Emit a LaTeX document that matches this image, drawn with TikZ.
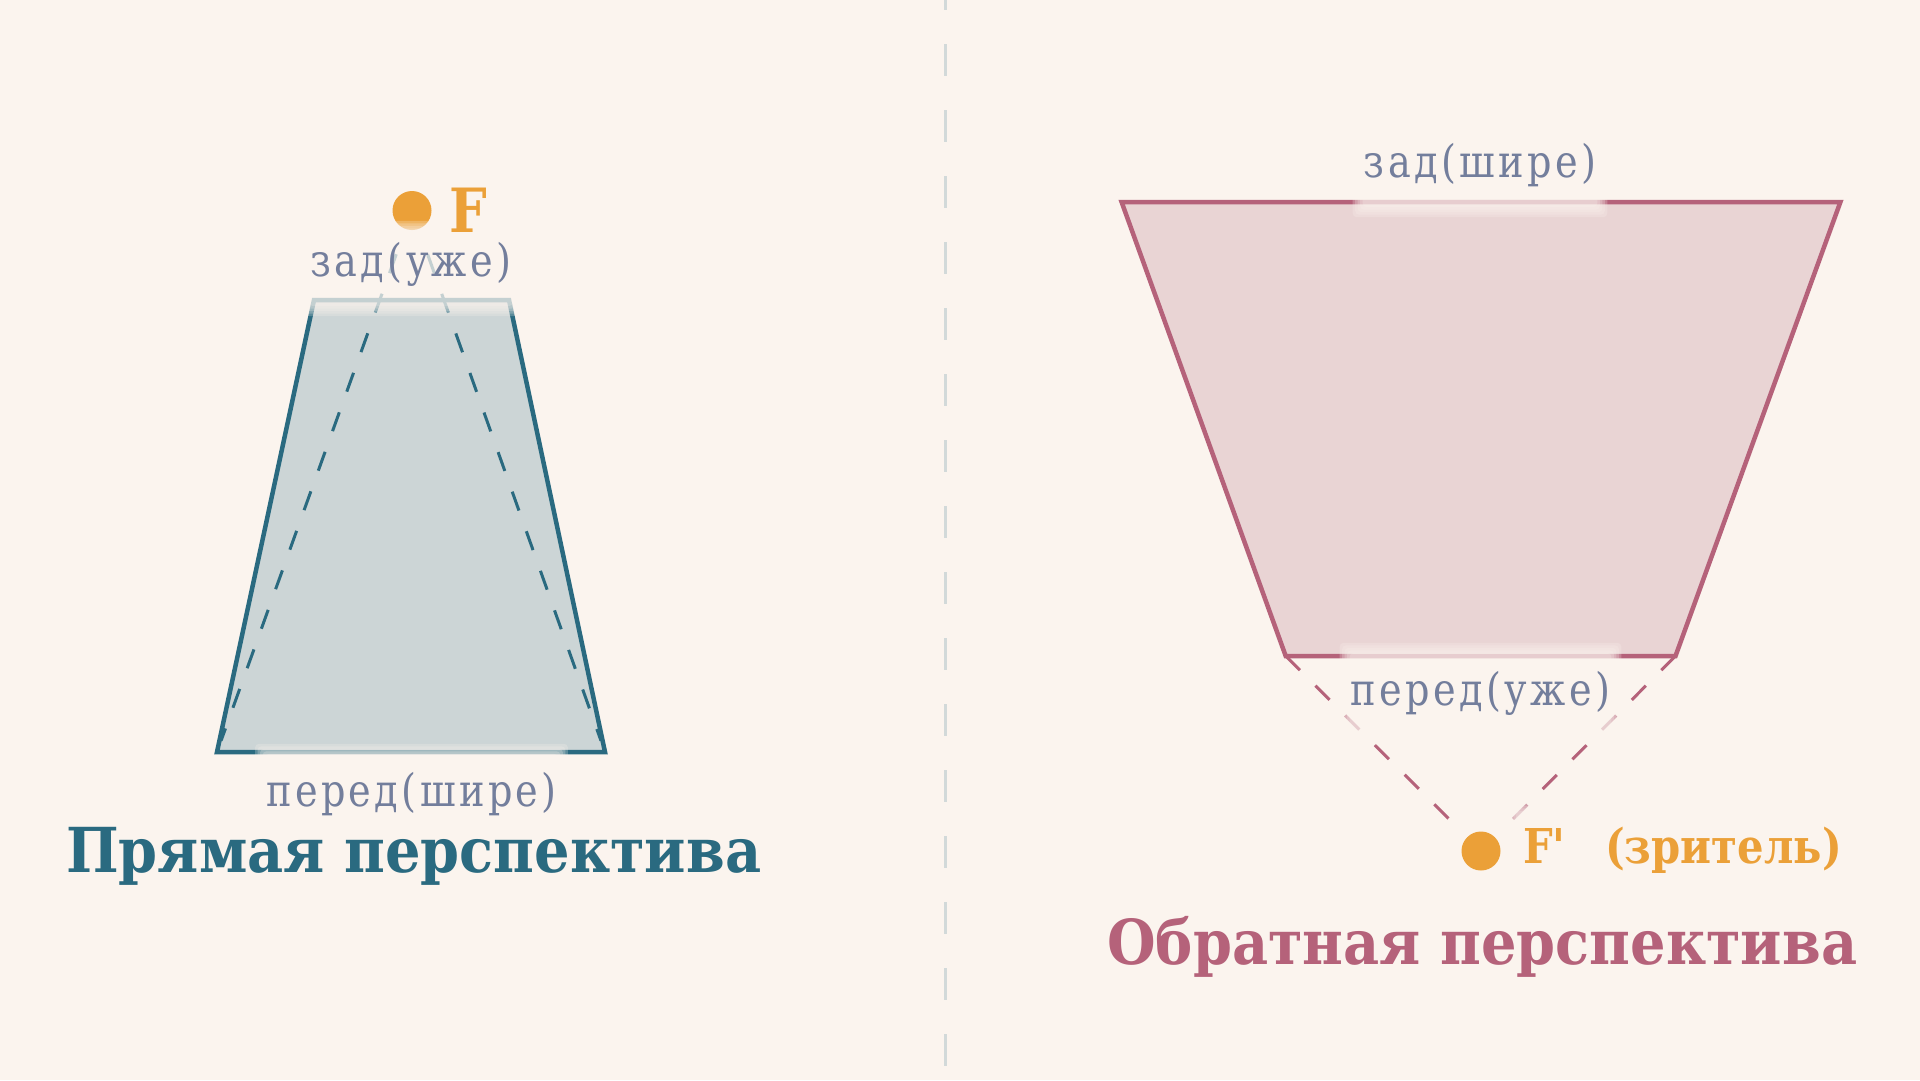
\documentclass[tikz,border=0pt]{standalone}
\usepackage{fontspec}
\setmainfont{DejaVu Serif}
\newfontfamily\lblfont{DejaVu Serif}[FakeStretch=0.85, LetterSpace=7.5]
\newfontfamily\titlefont{DejaVu Serif Bold}[FakeStretch=0.9]
\newfontfamily\viewfont{DejaVu Serif Bold}[FakeStretch=0.87, Ligatures=TeXOff]
\definecolor{bgc}{HTML}{FBF4EE}
\definecolor{bluec}{HTML}{2A6A80}
\definecolor{bluefill}{HTML}{CCD5D6}
\definecolor{rosec}{HTML}{B5627A}
\definecolor{rosefill}{HTML}{E9D4D4}
\definecolor{orangec}{HTML}{EBA038}
\definecolor{lblc}{HTML}{737E9C}
\definecolor{divc}{HTML}{D2D9D9}
\pgfdeclarelayer{front}
\pgfsetlayers{main,front}
\tikzset{
  divider/.style={draw=divc, line width=3pt, dash pattern=on 32pt off 34pt, dash phase=22pt},
  lefttrap/.style={draw=bluec, fill=bluefill, line width=4.5pt, line join=miter},
  righttrap/.style={draw=rosec, fill=rosefill, line width=4.5pt, line join=miter},
  leftdash/.style={draw=bluec, line width=3pt, dash pattern=on 20pt off 22pt, dash phase=29.5pt},
  rightdash/.style={draw=rosec, line width=3pt, dash pattern=on 20pt off 22pt},
  fdot/.style={circle, fill=orangec, inner sep=0pt, minimum size=39pt},
  lbl/.style={font=\lblfont\fontsize{45}{52}\selectfont, text=lblc, anchor=base, inner xsep=6pt, inner ysep=12pt, text height=45pt, text depth=23pt},
  flabel/.style={text=orangec, anchor=base west, inner sep=0pt},
  flabelbox/.style={text=orangec, anchor=base west, inner xsep=12pt, inner ysep=12pt, text height=45pt, text depth=23pt},
  title/.style={font=\titlefont\fontsize{62}{70}\selectfont, anchor=base west, inner sep=0pt},
  blurlayer/.style={fill=bgc, opacity=0.24, rounded corners=4pt}
}
\newcommand{\blurbox}[1]{%
  \foreach \d in {-5,-2.5,0,2.5,5}{%
    \fill[blurlayer] ([xshift=\d pt,yshift=\d pt]#1.south west) rectangle ([xshift=-\d pt,yshift=-\d pt]#1.north east);
  }%
}
\begin{document}
\begin{tikzpicture}[x=1pt,y=-1pt]
\fill[bgc] (0,0) rectangle (1920,1080);
\useasboundingbox (0,0) rectangle (1920,1080);

% divider
\coordinate (dtop) at (945.7,0);
\coordinate (dbot) at (945.7,1080);
\draw[divider] (dtop) -- (dbot);

% left: direct perspective
\coordinate (LTL) at (314,300);
\coordinate (LTR) at (509,300);
\coordinate (LBR) at (605,752);
\coordinate (LBL) at (217,752);
\filldraw[lefttrap] (LTL) -- (LTR) -- (LBR) -- (LBL) -- cycle;
\node[fdot] (F) at (412,210.5) {};
\draw[leftdash, shorten <=34pt, shorten >=12pt] (F.center) -- (LBL);
\draw[leftdash, shorten <=34pt, shorten >=12pt] (F.center) -- (LBR);

% right: reverse perspective
\coordinate (RTL) at (1121.6,202);
\coordinate (RTR) at (1840.4,202);
\coordinate (RBR) at (1675.5,656);
\coordinate (RBL) at (1285.7,656);
\filldraw[righttrap] (RTL) -- (RTR) -- (RBR) -- (RBL) -- cycle;
\node[fdot] (Fp) at (1481,851) {};
\draw[rightdash, shorten >=44pt] (RBL) -- (Fp.center);
\draw[rightdash, shorten >=44pt] (RBR) -- (Fp.center);

\begin{pgfonlayer}{front}
\node[lbl, text height=38pt] (Lback) at (411,276) {зад(уже)};
\node[lbl] (Lfront) at (411.5,806) {перед(шире)};
\node[lbl] (Rback) at (1480,177) {зад(шире)};
\node[lbl] (Rfront) at (1480.5,705) {перед(уже)};
\node[flabel, font=\viewfont\fontsize{61}{70}\selectfont] (Flbl) at (449,232) {F};
\node[flabelbox, font=\viewfont\fontsize{48}{56}\selectfont] (Fplbl) at (1511,863) {F'};
\node[flabel, font=\viewfont\fontsize{48}{56}\selectfont] (viewer) at (1605,863) {(зритель)};
\node[title, text=bluec] (Ltitle) at (66,872) {Прямая перспектива};
\node[title, text=rosec] (Rtitle) at (1107,964) {Обратная перспектива};
\end{pgfonlayer}

\blurbox{Lback}
\blurbox{Lfront}
\blurbox{Rback}
\blurbox{Rfront}
\blurbox{Fplbl}
\end{tikzpicture}
\end{document}
